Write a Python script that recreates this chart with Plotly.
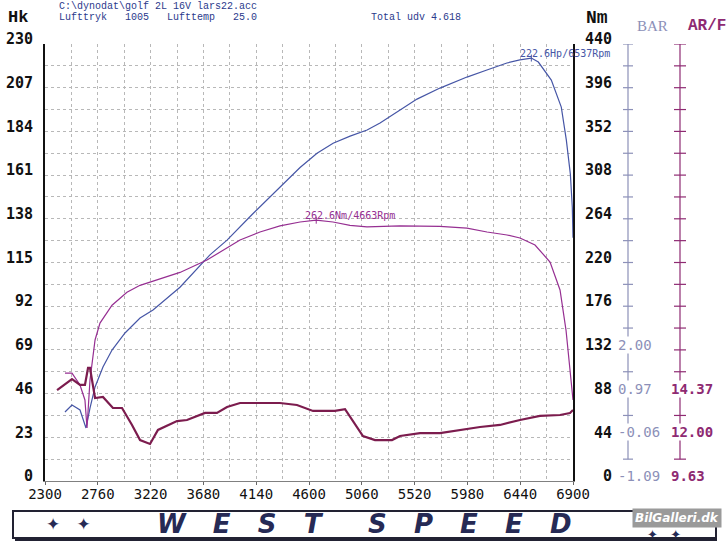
import plotly.graph_objects as go

# ---------------- data ----------------
rpm_power = [2474, 2535, 2605, 2657, 2692, 2736, 2805, 2884, 2997, 3128, 3241, 3476,
             3737, 3886, 4100, 4300, 4522, 4670, 4810, 4958, 5106, 5219, 5393, 5541,
             5741, 5976, 6150, 6324, 6437, 6537, 6598, 6711, 6798, 6842, 6877, 6894, 6900]
power_hk = [36.3, 40.0, 37.4, 27.9, 38.4, 49.5, 60.0, 68.9, 77.9, 85.8, 90.0, 102.0,
            119.0, 126.8, 140.0, 152.0, 165.0, 172.5, 177.8, 181.5, 184.7, 188.4, 195.2, 201.0,
            206.8, 212.6, 216.3, 220.0, 221.6, 222.6, 220.5, 211.0, 196.8, 179.4, 161.5, 144.0, 128.0]

rpm_torque = [2474, 2535, 2605, 2648, 2666, 2692, 2736, 2779, 2884, 3014, 3128, 3476,
              3711, 3886, 3999, 4173, 4347, 4522, 4663, 4809, 4957, 5105, 5393, 5741,
              5976, 6151, 6325, 6438, 6569, 6700, 6787, 6839, 6874, 6900]
torque_nm = [108.7, 108.7, 96.7, 81.6, 53.4, 101.7, 142.0, 159.0, 177.0, 190.0, 197.0, 210.0,
             222.5, 234.6, 242.7, 250.7, 256.8, 260.8, 262.6, 260.8, 257.3, 255.8, 256.8, 256.3,
             254.7, 250.7, 247.7, 244.7, 237.6, 220.5, 192.3, 152.0, 111.8, 81.6]

rpm_afr = [2405, 2535, 2605, 2648, 2675, 2692, 2736, 2805, 2892, 2971, 3058, 3128, 3215,
           3284, 3450, 3537, 3694, 3798, 3886, 3999, 4347, 4495, 4635, 4826, 4914, 5070,
           5175, 5323, 5393, 5567, 5741, 5915, 6090, 6264, 6438, 6612, 6787, 6874, 6900]
afr = [14.56, 15.16, 14.84, 14.84, 15.76, 15.76, 14.13, 14.19, 13.59, 13.59, 12.67, 11.85, 11.64,
       12.40, 12.88, 12.94, 13.32, 13.32, 13.64, 13.86, 13.86, 13.75, 13.43, 13.43, 13.53, 12.07,
       11.85, 11.85, 12.07, 12.23, 12.23, 12.40, 12.56, 12.67, 12.94, 13.16, 13.21, 13.32, 13.48]

peak_power = (6537, 222.6)
peak_torque = (4663, 262.6)

nm_ticks = [0, 44, 88, 132, 176, 220, 264, 308, 352, 396, 440]
bar_labels = ["-1.09", "-0.06", "0.97", "2.00"]
bar_label_nm = [0, 44, 88, 132]
afr_labels = ["9.63", "12.00", "14.37"]
afr_label_nm = [0, 44, 88]
side_tick_nm = list(range(22, 441, 22))

# ---------------- styling ----------------
C_POWER = "#4656a6"
C_TORQUE = "#962f92"
C_AFR = "#7c1c4e"
C_BAR = "#8c90b8"
C_AFR_AX = "#8e2a72"
C_HEAD = "#2b3a8c"
MONO = "DejaVu Sans Mono"
CMONO = "Liberation Mono"

L, R, T, B = 45, 155, 44, 60
W, H = 728, 541
PW, PH = W - L - R, H - T - B


def px_x(p):
    return (p - L) / PW


def px_y(p):
    return (H - B - p) / PH


fig = go.Figure()
fig.add_trace(go.Scatter(x=rpm_power, y=power_hk, mode="lines", yaxis="y",
                         line=dict(color=C_POWER, width=1.2), hoverinfo="skip"))
fig.add_trace(go.Scatter(x=rpm_torque, y=torque_nm, mode="lines", yaxis="y2",
                         line=dict(color=C_TORQUE, width=1.2), hoverinfo="skip"))
fig.add_trace(go.Scatter(x=rpm_afr, y=afr, mode="lines", yaxis="y4",
                         line=dict(color=C_AFR, width=2.2), hoverinfo="skip"))
fig.add_trace(go.Scatter(x=[peak_power[0]], y=[peak_power[1]], mode="markers", yaxis="y",
                         marker=dict(symbol="line-ns-open", size=5, color=C_POWER,
                                     line=dict(width=1, color=C_POWER))))
fig.add_trace(go.Scatter(x=[peak_torque[0]], y=[peak_torque[1]], mode="markers", yaxis="y2",
                         marker=dict(symbol="line-ns-open", size=5, color=C_TORQUE,
                                     line=dict(width=1, color=C_TORQUE))))

grid = dict(showgrid=True, gridcolor="#b8b8b8", gridwidth=1, griddash="dot")

annotations = []
shapes = []

# side axes (BAR, AR/F)
for xp, col, ln in [(628, C_BAR, 5), (680, C_AFR_AX, 6)]:
    xa = px_x(xp)
    shapes.append(dict(type="line", xref="paper", yref="y2", x0=xa, x1=xa,
                       y0=side_tick_nm[0], y1=side_tick_nm[-1],
                       line=dict(color=col, width=1.2)))
    for t in side_tick_nm:
        shapes.append(dict(type="line", xref="paper", yref="y2", xsizemode="pixel",
                           xanchor=xa, x0=-ln, x1=ln, y0=t, y1=t,
                           line=dict(color=col, width=1.2)))

for lab, v in zip(bar_labels, bar_label_nm):
    annotations.append(dict(text=lab, xref="paper", yref="y2", x=px_x(617), y=v,
                            xanchor="left", yanchor="middle", yshift=5, showarrow=False,
                            bgcolor="white", borderpad=0,
                            font=dict(family=MONO, size=14, color=C_BAR)))
for lab, v in zip(afr_labels, afr_label_nm):
    annotations.append(dict(text=lab, xref="paper", yref="y2", x=px_x(670), y=v,
                            xanchor="left", yanchor="middle", yshift=5, showarrow=False,
                            bgcolor="white", borderpad=0,
                            font=dict(family=MONO, size=14, color=C_AFR_AX, weight="bold")))

# peak labels
annotations.append(dict(text=f"{peak_power[1]}Hp/{peak_power[0]}Rpm", x=peak_power[0],
                        y=peak_power[1], xref="x", yref="y", xanchor="left", yanchor="middle",
                        xshift=-13, yshift=5, showarrow=False,
                        font=dict(family=MONO, size=10, color=C_POWER)))
annotations.append(dict(text=f"{peak_torque[1]}Nm/{peak_torque[0]}Rpm", x=peak_torque[0],
                        y=peak_torque[1], xref="x", yref="y2", xanchor="left", yanchor="middle",
                        xshift=-13, yshift=5, showarrow=False,
                        font=dict(family=MONO, size=10, color=C_TORQUE)))

# header texts
nb = "\u00a0"
def head(text, x, y):
    annotations.append(dict(text=text, xref="paper", yref="paper", x=px_x(x), y=px_y(y),
                            xanchor="left", yanchor="middle", showarrow=False,
                            font=dict(family=CMONO, size=10, color=C_HEAD)))

head("C:\\dynodat\\golf" + nb + "2L" + nb + "16V" + nb + "lars22.acc", 57, 7)
head("Lufttryk" + nb * 3 + "1005" + nb * 3 + "Lufttemp" + nb * 3 + "25.0", 57, 18)
head("Total" + nb + "udv" + nb + "4.618", 369, 18)

def label(text, x, y, fam, size, col, weight="normal", anchor="left", style="normal"):
    annotations.append(dict(text=text, xref="paper", yref="paper", x=px_x(x), y=px_y(y),
                            xanchor=anchor, yanchor="middle", showarrow=False,
                            font=dict(family=fam, size=size, color=col, weight=weight,
                                      style=style)))

label("Hk", 6, 17, CMONO, 17, "#111111", "bold")
label("Nm", 584, 18, CMONO, 18, "#111111", "bold")
label("BAR", 635, 26, "Liberation Serif", 15, C_BAR)
label("AR/F", 686, 26, CMONO, 16, C_AFR_AX, "bold")

# banner
y_top, y_bot = 511, 538
shapes.append(dict(type="rect", xref="paper", yref="paper", x0=px_x(13), x1=px_x(716),
                   y0=px_y(y_bot), y1=px_y(y_top), line=dict(color="#222233", width=2),
                   fillcolor="white"))
shapes.append(dict(type="line", xref="paper", yref="paper", x0=px_x(15), x1=px_x(717),
                   y0=px_y(y_bot + 1.5), y1=px_y(y_bot + 1.5), line=dict(color="#222233", width=3)))
label("\u2726" + nb * 3 + "\u2726", 44, 524, "DejaVu Sans", 17, "#262a55")
sp = nb * 3
label(sp.join("WEST"), 240, 524, "DejaVu Sans", 26, "#262a55", "bold", "center", "italic")
label(sp.join("SPEED"), 470, 524, "DejaVu Sans", 26, "#262a55", "bold", "center", "italic")
label("\u2726" + nb * 3 + "\u2726", 645, 534, "DejaVu Sans", 13, "#262a55")
annotations.append(dict(text="<i><b>BilGalleri.dk</b></i>", xref="paper", yref="paper",
                        x=px_x(722), y=px_y(518), xanchor="right", yanchor="middle",
                        showarrow=False, bgcolor="#9a9a9a", borderpad=2,
                        font=dict(family="DejaVu Sans", size=12, color="white")))

fig.update_layout(
    width=W, height=H, margin=dict(l=L, r=R, t=T, b=B, autoexpand=False),
    paper_bgcolor="white", plot_bgcolor="white", showlegend=False,
    xaxis=dict(range=[2300, 6900], tick0=2300, dtick=460, **grid, automargin=False,
               minor=dict(dtick=230, tick0=2300, showgrid=True, gridcolor="#b8b8b8", griddash="dot"),
               showline=True, linecolor="#808080", linewidth=1, zeroline=False,
               ticks="outside", ticklen=3, tickcolor="#666666", ticklabelstandoff=-3,
               tickfont=dict(family=MONO, size=14, color="#111111")),
    yaxis=dict(range=[0, 230], tick0=0, dtick=23, **grid, automargin=False,
               minor=dict(dtick=11.5, tick0=0, showgrid=True, gridcolor="#b8b8b8", griddash="dot"),
               showline=True, linecolor="#111111", linewidth=2, zeroline=False,
               ticks="", ticklabelshift=-5, ticklabelstandoff=7,
               tickfont=dict(family=MONO, size=15, color="#111111", weight="bold")),
    yaxis2=dict(range=[0, 440], overlaying="y", side="right", tickmode="array",
                tickvals=nm_ticks, automargin=False,
                ticktext=[nb * (3 - len(str(v))) + str(v) for v in nm_ticks],
                showgrid=False, zeroline=False, showline=True, linecolor="#111111", linewidth=2,
                ticks="", ticklabelshift=-5, ticklabelstandoff=7,
                tickfont=dict(family=MONO, size=15, color="#111111", weight="bold")),
    yaxis4=dict(range=[9.63, 33.33], overlaying="y", visible=False, automargin=False),
    shapes=shapes, annotations=annotations,
)

fig.write_html("out.html")
